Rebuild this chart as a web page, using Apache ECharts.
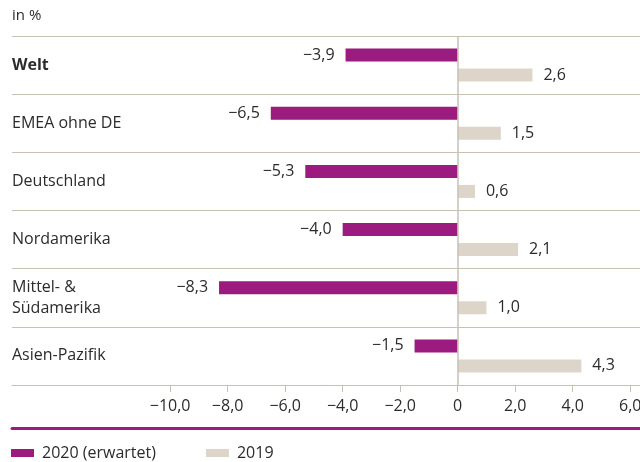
<!DOCTYPE html>
<html>
<head>
<meta charset="utf-8">
<script src="https://cdn.jsdelivr.net/npm/echarts@6/dist/echarts.min.js"></script>
<style>
  html, body { margin: 0; padding: 0; background: #fff; }
  #chart { width: 640px; height: 462px; }
</style>
</head>
<body>
<div id="chart"></div>
<script>
var categories = ['Welt', 'EMEA ohne DE', 'Deutschland', 'Nordamerika', 'Mittel- &\nSüdamerika', 'Asien-Pazifik'];
var values2020 = [-3.9, -6.5, -5.3, -4.0, -8.3, -1.5];
var values2019 = [2.6, 1.5, 0.6, 2.1, 1.0, 4.3];
var tickValues = [-10, -8, -6, -4, -2, 0, 2, 4, 6];
var seriesNames = ['2020 (erwartet)', '2019'];

function fmt(v) {
  if (v === 0) return '0';
  return (v < 0 ? '\u2212' : '') + Math.abs(v).toFixed(1).replace('.', ',');
}

function renderChart(chartID) {
  var chartDom = document.getElementById(chartID);
  var myChart = echarts.init(chartDom, null, { renderer: 'canvas' });
  var font = '"Open Sans", sans-serif';
  var fs = 16;
  var textColor = '#2b2b2b';
  var lineColor = '#c9c0b6';
  var option;

  option = {
    animation: false,
    textStyle: { fontFamily: font },
    title: {
      text: 'in %',
      left: 12,
      top: 8,
      padding: 0,
      textStyle: { fontSize: 15, fontWeight: 'normal', color: textColor, fontFamily: font }
    },
    legend: {
      left: 11,
      top: 445,
      padding: 0,
      icon: 'rect',
      itemWidth: 23,
      itemHeight: 8,
      itemGap: 50,
      textStyle: { fontSize: fs, color: textColor, fontFamily: font, padding: [0, 0, 0, 3] },
      data: seriesNames
    },
    grid: { left: 12, right: 0, top: 36, bottom: 77, outerBoundsMode: 'none', containLabel: false },
    xAxis: [
      {
        type: 'value',
        min: -15.5,
        max: 6.34,
        splitLine: { show: false },
        axisLine: { show: true, lineStyle: { color: lineColor, width: 1 } },
        axisTick: {
          show: true,
          customValues: tickValues,
          length: 7,
          lineStyle: { color: lineColor }
        },
        axisLabel: {
          customValues: tickValues,
          margin: 13,
          fontSize: fs,
          color: textColor,
          fontFamily: font,
          formatter: fmt
        }
      },
      {
        type: 'value',
        position: 'bottom',
        offset: 43,
        min: -15.5,
        max: 6.34,
        splitLine: { show: false },
        axisLine: { show: true, lineStyle: { color: '#9b1b7e', width: 3 } },
        axisTick: { show: false },
        axisLabel: { show: false }
      }
    ],
    yAxis: {
      type: 'category',
      inverse: true,
      data: categories,
      axisLine: { show: false },
      axisTick: { show: false },
      splitLine: { show: true, lineStyle: { color: lineColor, width: 1 } },
      axisLabel: {
        align: 'left',
        margin: 0,
        fontSize: fs,
        lineHeight: 21,
        color: textColor,
        fontFamily: font,
        formatter: function (v) {
          return v === 'Welt' ? '{b|' + v + '}' : v;
        },
        rich: {
          b: { fontWeight: 'bold', fontSize: fs, color: textColor, fontFamily: font }
        }
      }
    },
    series: [
      {
        name: seriesNames[0],
        type: 'bar',
        data: values2020,
        barWidth: 13,
        barGap: '54%',
        itemStyle: { color: '#9b1b7e' },
        label: {
          show: true,
          position: 'left',
          distance: 11,
          fontSize: fs,
          color: textColor,
          fontFamily: font,
          formatter: function (p) { return fmt(p.value); }
        },
        markLine: {
          silent: true,
          symbol: 'none',
          label: { show: false },
          lineStyle: { color: lineColor, type: 'solid', width: 1.5 },
          data: [{ xAxis: 0 }]
        }
      },
      {
        name: seriesNames[1],
        type: 'bar',
        data: values2019,
        barWidth: 13,
        itemStyle: { color: '#ddd5ca' },
        label: {
          show: true,
          position: 'right',
          distance: 11,
          fontSize: fs,
          color: textColor,
          fontFamily: font,
          formatter: function (p) { return fmt(p.value); }
        }
      }
    ]
  };

  option && myChart.setOption(option);
}

renderChart('chart');
</script>
</body>
</html>
